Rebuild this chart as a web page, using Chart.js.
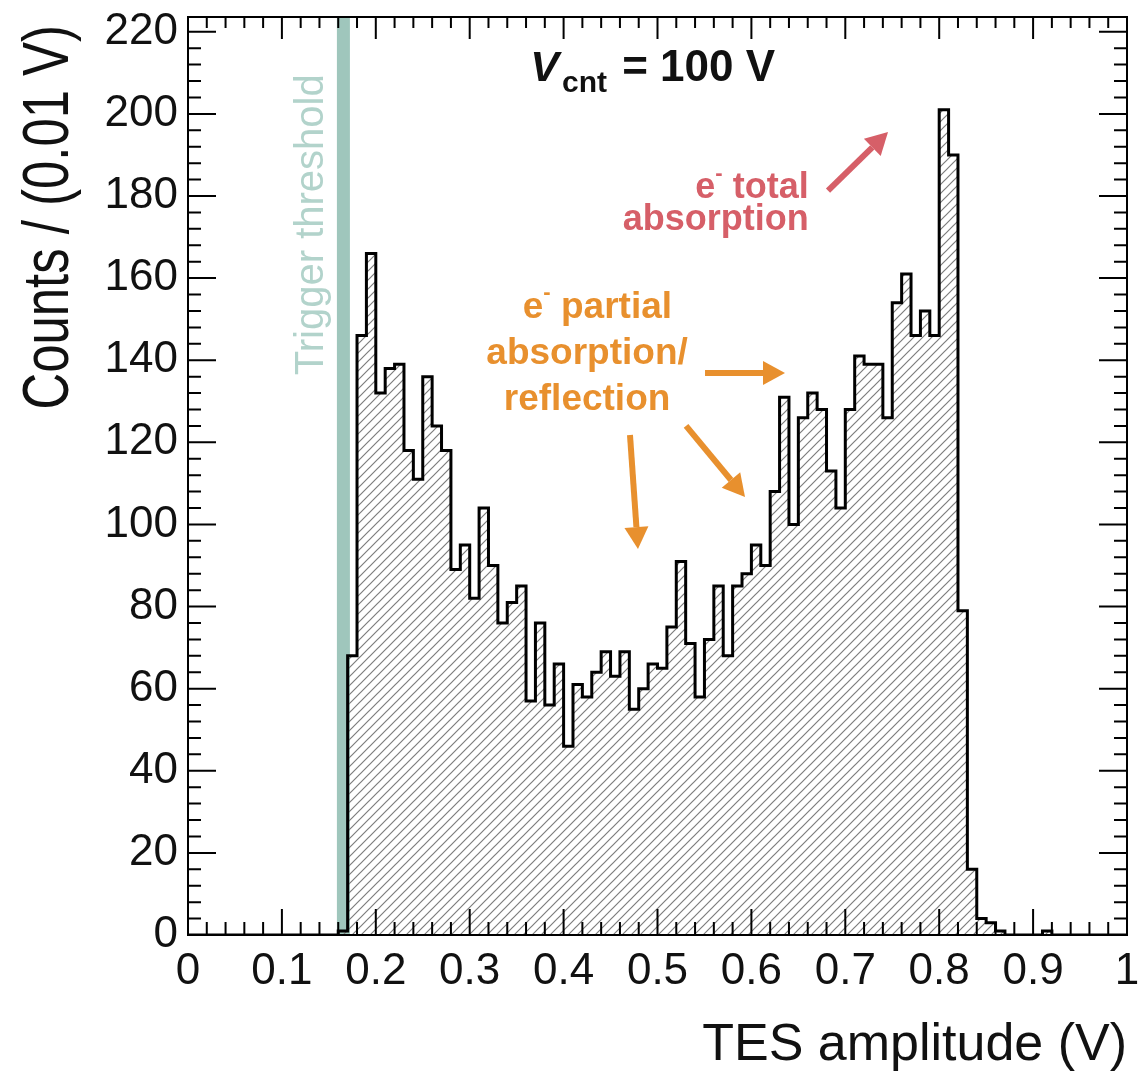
<!DOCTYPE html>
<html>
<head>
<meta charset="utf-8">
<title>TES amplitude</title>
<script src="https://cdn.jsdelivr.net/npm/chart.js@4/dist/chart.umd.min.js"></script>
<style>
  html, body { margin: 0; padding: 0; background: #fff; }
  #wrap { width: 1140px; height: 1072px; }
</style>
</head>
<body>
<div id="wrap"><canvas id="myChart" width="1140" height="1072"></canvas></div>
<script>
// histogram: 100 bins of 0.01 V starting at 0
const binLow = 0;
const binWidth = 0.01;
const counts = [
  0, 0, 0, 0, 0, 0, 0, 0, 0, 0,
  0, 0, 0, 0, 0, 0, 1, 68, 146, 166,
  132, 138, 139, 118, 111, 136, 124, 118, 89, 95,
  82, 104, 90, 76, 81, 85, 57, 76, 56, 66,
  46, 61, 58, 64, 69, 63, 69, 55, 60, 66,
  65, 75, 91, 71, 58, 72, 85, 68, 85, 88,
  95, 90, 108, 131, 100, 126, 132, 128, 113, 104,
  128, 141, 139, 139, 126, 154, 161, 146, 152, 146,
  201, 190, 79, 16, 4, 3, 1, 0, 0, 0,
  0, 1, 0, 0, 0, 0, 0, 0, 0, 0,
];

const xTicks = [0, 0.1, 0.2, 0.3, 0.4, 0.5, 0.6, 0.7, 0.8, 0.9, 1];
const xTickLabels = ["0", "0.1", "0.2", "0.3", "0.4", "0.5", "0.6", "0.7", "0.8", "0.9", "1"];
const yTicks = [0, 20, 40, 60, 80, 100, 120, 140, 160, 180, 200, 220];
const yTickLabels = ["0", "20", "40", "60", "80", "100", "120", "140", "160", "180", "200", "220"];

const triggerThreshold = 0.1655;

const FONT = "'Liberation Sans', Arial, Helvetica, sans-serif";
const orange = "#e8902e";
const red = "#d65f68";

// hatch fill like ROOT style 3004
function makeHatch() {
  const s = 9;
  const c = document.createElement("canvas");
  c.width = s;
  c.height = s;
  const g = c.getContext("2d");
  g.strokeStyle = "#7d7d7d";
  g.lineWidth = 1.2;
  g.beginPath();
  g.moveTo(0, s);
  g.lineTo(s, 0);
  g.moveTo(-s / 2, s / 2);
  g.lineTo(s / 2, -s / 2);
  g.moveTo(s / 2, s * 1.5);
  g.lineTo(s * 1.5, s / 2);
  g.stroke();
  return g.createPattern(c, "repeat");
}

const histPoints = counts.map((c, i) => ({ x: binLow + i * binWidth, y: c }));
histPoints.push({ x: binLow + counts.length * binWidth, y: 0 });

function arrow(ctx, x0, y0, x1, y1, color) {
  const ang = Math.atan2(y1 - y0, x1 - x0);
  const head = 22, half = 12;
  const bx = x1 - head * Math.cos(ang), by = y1 - head * Math.sin(ang);
  ctx.strokeStyle = color;
  ctx.fillStyle = color;
  ctx.lineWidth = 6;
  ctx.beginPath();
  ctx.moveTo(x0, y0);
  ctx.lineTo(bx, by);
  ctx.stroke();
  ctx.beginPath();
  ctx.moveTo(x1, y1);
  ctx.lineTo(bx + half * Math.sin(ang), by - half * Math.cos(ang));
  ctx.lineTo(bx - half * Math.sin(ang), by + half * Math.cos(ang));
  ctx.closePath();
  ctx.fill();
}

// draws "e⁻ text" with a raised small minus
function electronText(ctx, rest, x, y, size, color, align) {
  const big = "bold " + size + "px " + FONT;
  const small = "bold " + Math.round(size * 0.6) + "px " + FONT;
  ctx.font = big;
  const we = ctx.measureText("e").width;
  const wr = ctx.measureText(" " + rest).width;
  ctx.font = small;
  const wm = ctx.measureText("-").width;
  const total = we + wm + wr;
  let left = x;
  if (align === "right") left = x - total;
  if (align === "center") left = x - total / 2;
  ctx.fillStyle = color;
  ctx.textAlign = "left";
  ctx.textBaseline = "alphabetic";
  ctx.font = big;
  ctx.fillText("e", left, y);
  ctx.font = small;
  ctx.fillText("-", left + we, y - size * 0.5);
  ctx.font = big;
  ctx.fillText(" " + rest, left + we + wm, y);
}

const decor = {
  id: "decor",
  beforeDatasetsDraw(chart) {
    const ctx = chart.ctx;
    const a = chart.chartArea;
    const xs = chart.scales.x, ys = chart.scales.y;
    const tx = xs.getPixelForValue(triggerThreshold);
    ctx.save();
    ctx.fillStyle = "#9fc6bc";
    ctx.fillRect(tx - 6.5, a.top, 13, a.bottom - a.top);
    ctx.translate(xs.getPixelForValue(0.1438), ys.getPixelForValue(173));
    ctx.rotate(-Math.PI / 2);
    ctx.font = "40px " + FONT;
    ctx.fillStyle = "#b2d3cb";
    ctx.textAlign = "center";
    ctx.textBaseline = "alphabetic";
    ctx.fillText("Trigger threshold", 0, 0);
    ctx.restore();
  },
  afterDatasetsDraw(chart) {
    const ctx = chart.ctx;
    const a = chart.chartArea;
    const xs = chart.scales.x, ys = chart.scales.y;
    const X = (v) => xs.getPixelForValue(v);
    const Y = (v) => ys.getPixelForValue(v);
    ctx.save();

    // frame and ticks on all four sides
    ctx.strokeStyle = "#000";
    ctx.lineWidth = 2;
    ctx.strokeRect(a.left, a.top, a.right - a.left, a.bottom - a.top);
    ctx.beginPath();
    for (let k = 0; k < xTicks.length; k++) {
      const px = X(xTicks[k]);
      ctx.moveTo(px, a.bottom); ctx.lineTo(px, a.bottom - 26);
      ctx.moveTo(px, a.top); ctx.lineTo(px, a.top + 22);
      if (k < xTicks.length - 1) {
        const step = (xTicks[k + 1] - xTicks[k]) / 5;
        for (let m = 1; m < 5; m++) {
          const mx = X(xTicks[k] + m * step);
          ctx.moveTo(mx, a.bottom); ctx.lineTo(mx, a.bottom - 13);
          ctx.moveTo(mx, a.top); ctx.lineTo(mx, a.top + 11);
        }
      }
    }
    for (let k = 0; k < yTicks.length; k++) {
      const py = Y(yTicks[k]);
      ctx.moveTo(a.left, py); ctx.lineTo(a.left + 28, py);
      ctx.moveTo(a.right, py); ctx.lineTo(a.right - 28, py);
      const step = (yTicks[1] - yTicks[0]) / 5;
      for (let m = 1; m < 5; m++) {
        const v = yTicks[k] + m * step;
        if (v > ys.max) break;
        const my = Y(v);
        ctx.moveTo(a.left, my); ctx.lineTo(a.left + 13, my);
        ctx.moveTo(a.right, my); ctx.lineTo(a.right - 13, my);
      }
    }
    ctx.stroke();

    // V_cnt = 100 V
    ctx.fillStyle = "#111";
    ctx.textAlign = "left";
    ctx.textBaseline = "alphabetic";
    let px = X(0.3645);
    const base = Y(207.9);
    ctx.font = "italic bold 43px " + FONT;
    ctx.fillText("V", px, base);
    px += ctx.measureText("V").width + 3;
    ctx.font = "bold 30px " + FONT;
    ctx.fillText("cnt", px, base + 11);
    px += ctx.measureText("cnt").width + 3;
    ctx.font = "bold 44px " + FONT;
    ctx.fillText(" = 100 V", px, base);

    // e- total absorption (red)
    electronText(ctx, "total", X(0.661), Y(179.5), 36, red, "right");
    ctx.font = "bold 36px " + FONT;
    ctx.fillStyle = red;
    ctx.textAlign = "right";
    ctx.fillText("absorption", X(0.661), Y(171.8));
    arrow(ctx, X(0.6816), Y(181.3), X(0.7455), Y(195.6), red);

    // e- partial absorption / reflection (orange)
    electronText(ctx, "partial", X(0.436), Y(150.3), 37, orange, "center");
    ctx.font = "bold 37px " + FONT;
    ctx.fillStyle = orange;
    ctx.textAlign = "center";
    ctx.fillText("absorption/", X(0.425), Y(139.1));
    ctx.fillText("reflection", X(0.425), Y(127.9));
    arrow(ctx, X(0.5506), Y(136.9), X(0.6358), Y(136.9), orange);
    arrow(ctx, X(0.5304), Y(124.0), X(0.5932), Y(106.7), orange);
    arrow(ctx, X(0.4707), Y(121.8), X(0.4792), Y(94.0), orange);

    // axis titles
    ctx.fillStyle = "#111";
    ctx.font = "52px " + FONT;
    ctx.textAlign = "right";
    ctx.fillText("TES amplitude (V)", a.right, 1060);

    ctx.translate(68, 25);
    ctx.rotate(-Math.PI / 2);
    ctx.scale(0.795, 1);
    ctx.font = "64px " + FONT;
    ctx.textAlign = "right";
    ctx.fillText("Counts / (0.01 V)", 0, 0);
    ctx.restore();
  },
};

const chartContainer = document.getElementById("myChart").getContext("2d");

const myChart = new Chart(chartContainer, {
  type: "line",
  data: {
    datasets: [
      {
        data: histPoints,
        stepped: "before",
        borderColor: "#000",
        borderWidth: 3,
        borderJoinStyle: "miter",
        backgroundColor: makeHatch(),
        fill: "origin",
        pointRadius: 0,
      },
    ],
  },
  options: {
    responsive: false,
    animation: false,
    events: [],
    layout: { padding: { top: 17, right: 13, left: 0, bottom: 0 } },
    plugins: {
      legend: { display: false },
      tooltip: { enabled: false },
    },
    scales: {
      x: {
        type: "linear",
        min: 0,
        max: 1,
        afterBuildTicks: (s) => {
          s.ticks = xTicks.map((v) => ({ value: v }));
        },
        afterFit: (s) => {
          s.height = 137;
          s.paddingLeft = 0;
          s.paddingRight = 0;
        },
        grid: { display: false, drawTicks: false },
        border: { display: false },
        ticks: {
          callback: (v, i) => xTickLabels[i],
          font: { family: FONT, size: 44 },
          color: "#111",
          padding: 10,
          maxRotation: 0,
          autoSkip: false,
        },
      },
      y: {
        type: "linear",
        min: 0,
        max: 223.6,
        afterBuildTicks: (s) => {
          s.ticks = yTicks.map((v) => ({ value: v }));
        },
        afterFit: (s) => {
          s.width = 188;
          s.paddingTop = 0;
          s.paddingBottom = 0;
        },
        grid: { display: false, drawTicks: false },
        border: { display: false },
        ticks: {
          callback: (v, i) => yTickLabels[i],
          font: { family: FONT, size: 44 },
          color: "#111",
          padding: 10,
          autoSkip: false,
        },
      },
    },
  },
  plugins: [decor],
});
</script>
</body>
</html>
